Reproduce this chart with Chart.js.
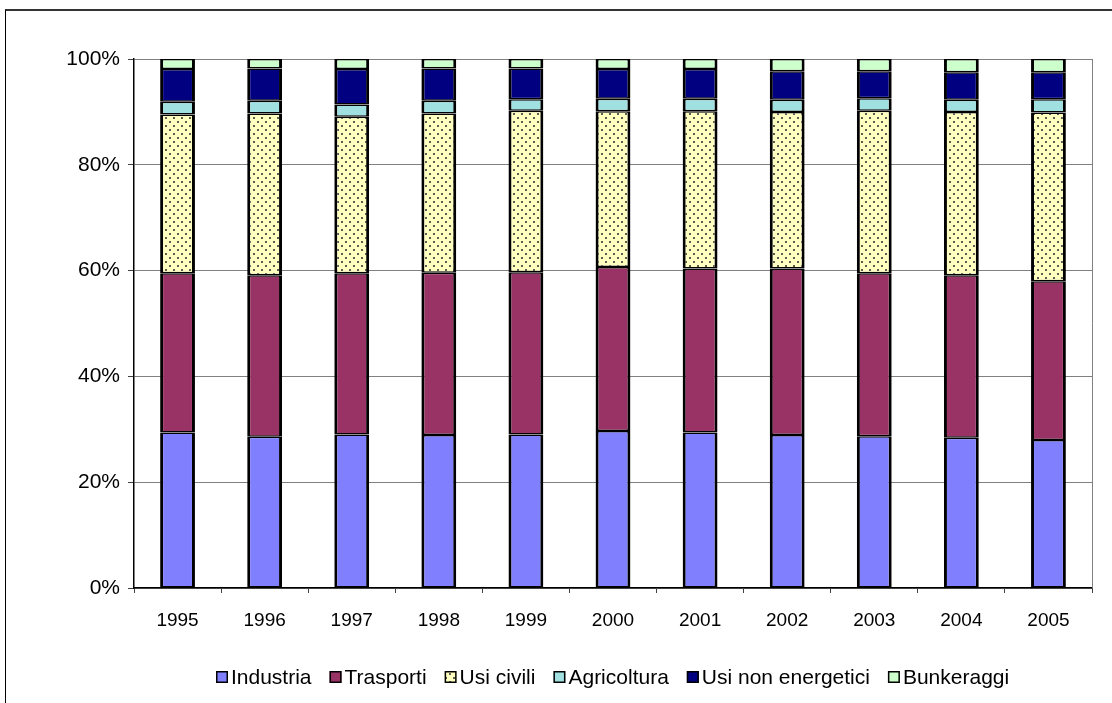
<!DOCTYPE html>
<html>
<head>
<meta charset="utf-8">
<script src="https://cdn.jsdelivr.net/npm/chart.js@4/dist/chart.umd.min.js"></script>
<style>
  html, body { margin: 0; padding: 0; background: #fff; }
  #wrap { position: relative; width: 1112px; height: 703px; overflow: hidden; }
  #frame { position: absolute; left: 5px; top: 9px; width: 1200px; height: 800px;
           border-left: 1px solid #000; border-top: 2px solid #333; box-sizing: border-box; }
  canvas { position: absolute; left: 0; top: 0; }
</style>
</head>
<body>
<div id="wrap">
  <div id="frame"></div>
  <canvas id="c" width="1112" height="703"></canvas>
</div>
<script>
// Consumi per settore, quote percentuali 1995-2005
const years = ['1995','1996','1997','1998','1999','2000','2001','2002','2003','2004','2005'];
const industria     = [29.4, 28.6, 29.0, 28.9, 29.0, 29.7, 29.4, 28.9, 28.7, 28.4, 28.0];
const trasporti     = [30.1, 30.5, 30.5, 30.7, 30.7, 31.0, 31.0, 31.5, 30.8, 30.7, 30.0];
const usiCivili     = [30.0, 30.6, 29.6, 30.1, 30.5, 29.4, 29.7, 29.6, 30.7, 30.9, 31.9];
const agricoltura   = [2.4, 2.4, 2.3, 2.4, 2.2, 2.4, 2.4, 2.3, 2.4, 2.3, 2.5];
const usiNonEnerg   = [6.2, 6.1, 6.7, 6.1, 5.8, 5.6, 5.6, 5.4, 5.1, 5.2, 5.1];
const bunkeraggi    = [1.9, 1.8, 1.9, 1.8, 1.8, 1.9, 1.9, 2.3, 2.3, 2.5, 2.5];
const yTicks = [0, 20, 40, 60, 80, 100];

const FONT = '"Liberation Sans", Arial, sans-serif';
const canvas = document.getElementById('c');
const ctx2d = canvas.getContext('2d');

// dotted fill for "Usi civili"
function dotPattern() {
  const t = document.createElement('canvas');
  t.width = 8; t.height = 8;
  const g = t.getContext('2d');
  g.fillStyle = '#FFFFC0';
  g.fillRect(0, 0, 8, 8);
  g.fillStyle = '#5e5e4e';
  g.fillRect(1, 1, 2, 2);
  g.fillRect(5, 5, 2, 2);
  return ctx2d.createPattern(t, 'repeat');
}

const barBorder = { left: 3, right: 3, top: 1.5, bottom: 1.5 };
function ds(label, data, color) {
  return {
    label, data,
    backgroundColor: color,
    borderColor: '#000',
    borderWidth: barBorder,
    borderSkipped: false,
    barPercentage: 0.4,
    categoryPercentage: 1.0
  };
}

// plot-area right edge line
const plotFrame = {
  id: 'plotFrame',
  beforeDatasetsDraw(chart) {
    const { ctx, chartArea: a } = chart;
    ctx.save();
    ctx.strokeStyle = '#808080';
    ctx.lineWidth = 1;
    ctx.beginPath();
    ctx.moveTo(Math.round(a.right) + 0.5, a.top);
    ctx.lineTo(Math.round(a.right) + 0.5, a.bottom);
    ctx.stroke();
    ctx.restore();
  }
};

// legend row under the axis, centred on the plot area
const bottomLegend = {
  id: 'bottomLegend',
  afterDraw(chart) {
    const { ctx, chartArea: a } = chart;
    ctx.save();
    ctx.font = '21px ' + FONT;
    ctx.textBaseline = 'middle';
    const box = 12, gapText = 3, gapItem = 18, cy = 677;
    const items = chart.data.datasets.map(d => ({
      label: d.label, fill: d.backgroundColor,
      w: box + gapText + ctx.measureText(d.label).width
    }));
    const total = items.reduce((s, it) => s + it.w, 0) + gapItem * (items.length - 1);
    let x = Math.round((a.left + a.right) / 2 - total / 2);
    items.forEach(it => {
      const top = Math.round(cy - box / 2);
      ctx.fillStyle = it.fill;
      ctx.fillRect(x, top, box, box);
      ctx.strokeStyle = '#000';
      ctx.lineWidth = 1.5;
      ctx.strokeRect(x + 0.75, top + 0.75, box - 1.5, box - 1.5);
      ctx.fillStyle = '#000';
      ctx.fillText(it.label, x + box + gapText, cy + 1);
      x += it.w + gapItem;
    });
    ctx.restore();
  }
};

new Chart(canvas, {
  type: 'bar',
  data: {
    labels: years,
    datasets: [
      ds('Industria', industria, '#8080FF'),
      ds('Trasporti', trasporti, '#993366'),
      ds('Usi civili', usiCivili, dotPattern()),
      ds('Agricoltura', agricoltura, '#A0E0E0'),
      ds('Usi non energetici', usiNonEnerg, '#000080'),
      ds('Bunkeraggi', bunkeraggi, '#CCFFCC')
    ]
  },
  options: {
    responsive: false,
    animation: false,
    layout: { padding: { left: 0, top: 59, right: 20, bottom: 75 } },
    plugins: {
      legend: { display: false },
      tooltip: { enabled: false }
    },
    scales: {
      x: {
        stacked: true,
        grid: { offset: true, drawOnChartArea: false, drawTicks: true, tickLength: 5, color: '#404040', lineWidth: 1 },
        border: { color: '#000', width: 1.5 },
        ticks: { color: '#000', font: { family: FONT, size: 19 }, padding: 16, maxRotation: 0 },
        afterFit(s) { s.height = 40; }
      },
      y: {
        stacked: true,
        min: 0, max: 100,
        afterBuildTicks(s) { s.ticks = yTicks.map(v => ({ value: v })); },
        ticks: { color: '#000', font: { family: FONT, size: 21 }, padding: 8, callback: v => v + '%' },
        grid: { color: '#808080', lineWidth: 1, tickLength: 6, tickColor: '#404040' },
        border: { color: '#000', width: 1.5 },
        afterFit(s) { s.width = 134; }
      }
    }
  },
  plugins: [plotFrame, bottomLegend]
});
</script>
</body>
</html>
